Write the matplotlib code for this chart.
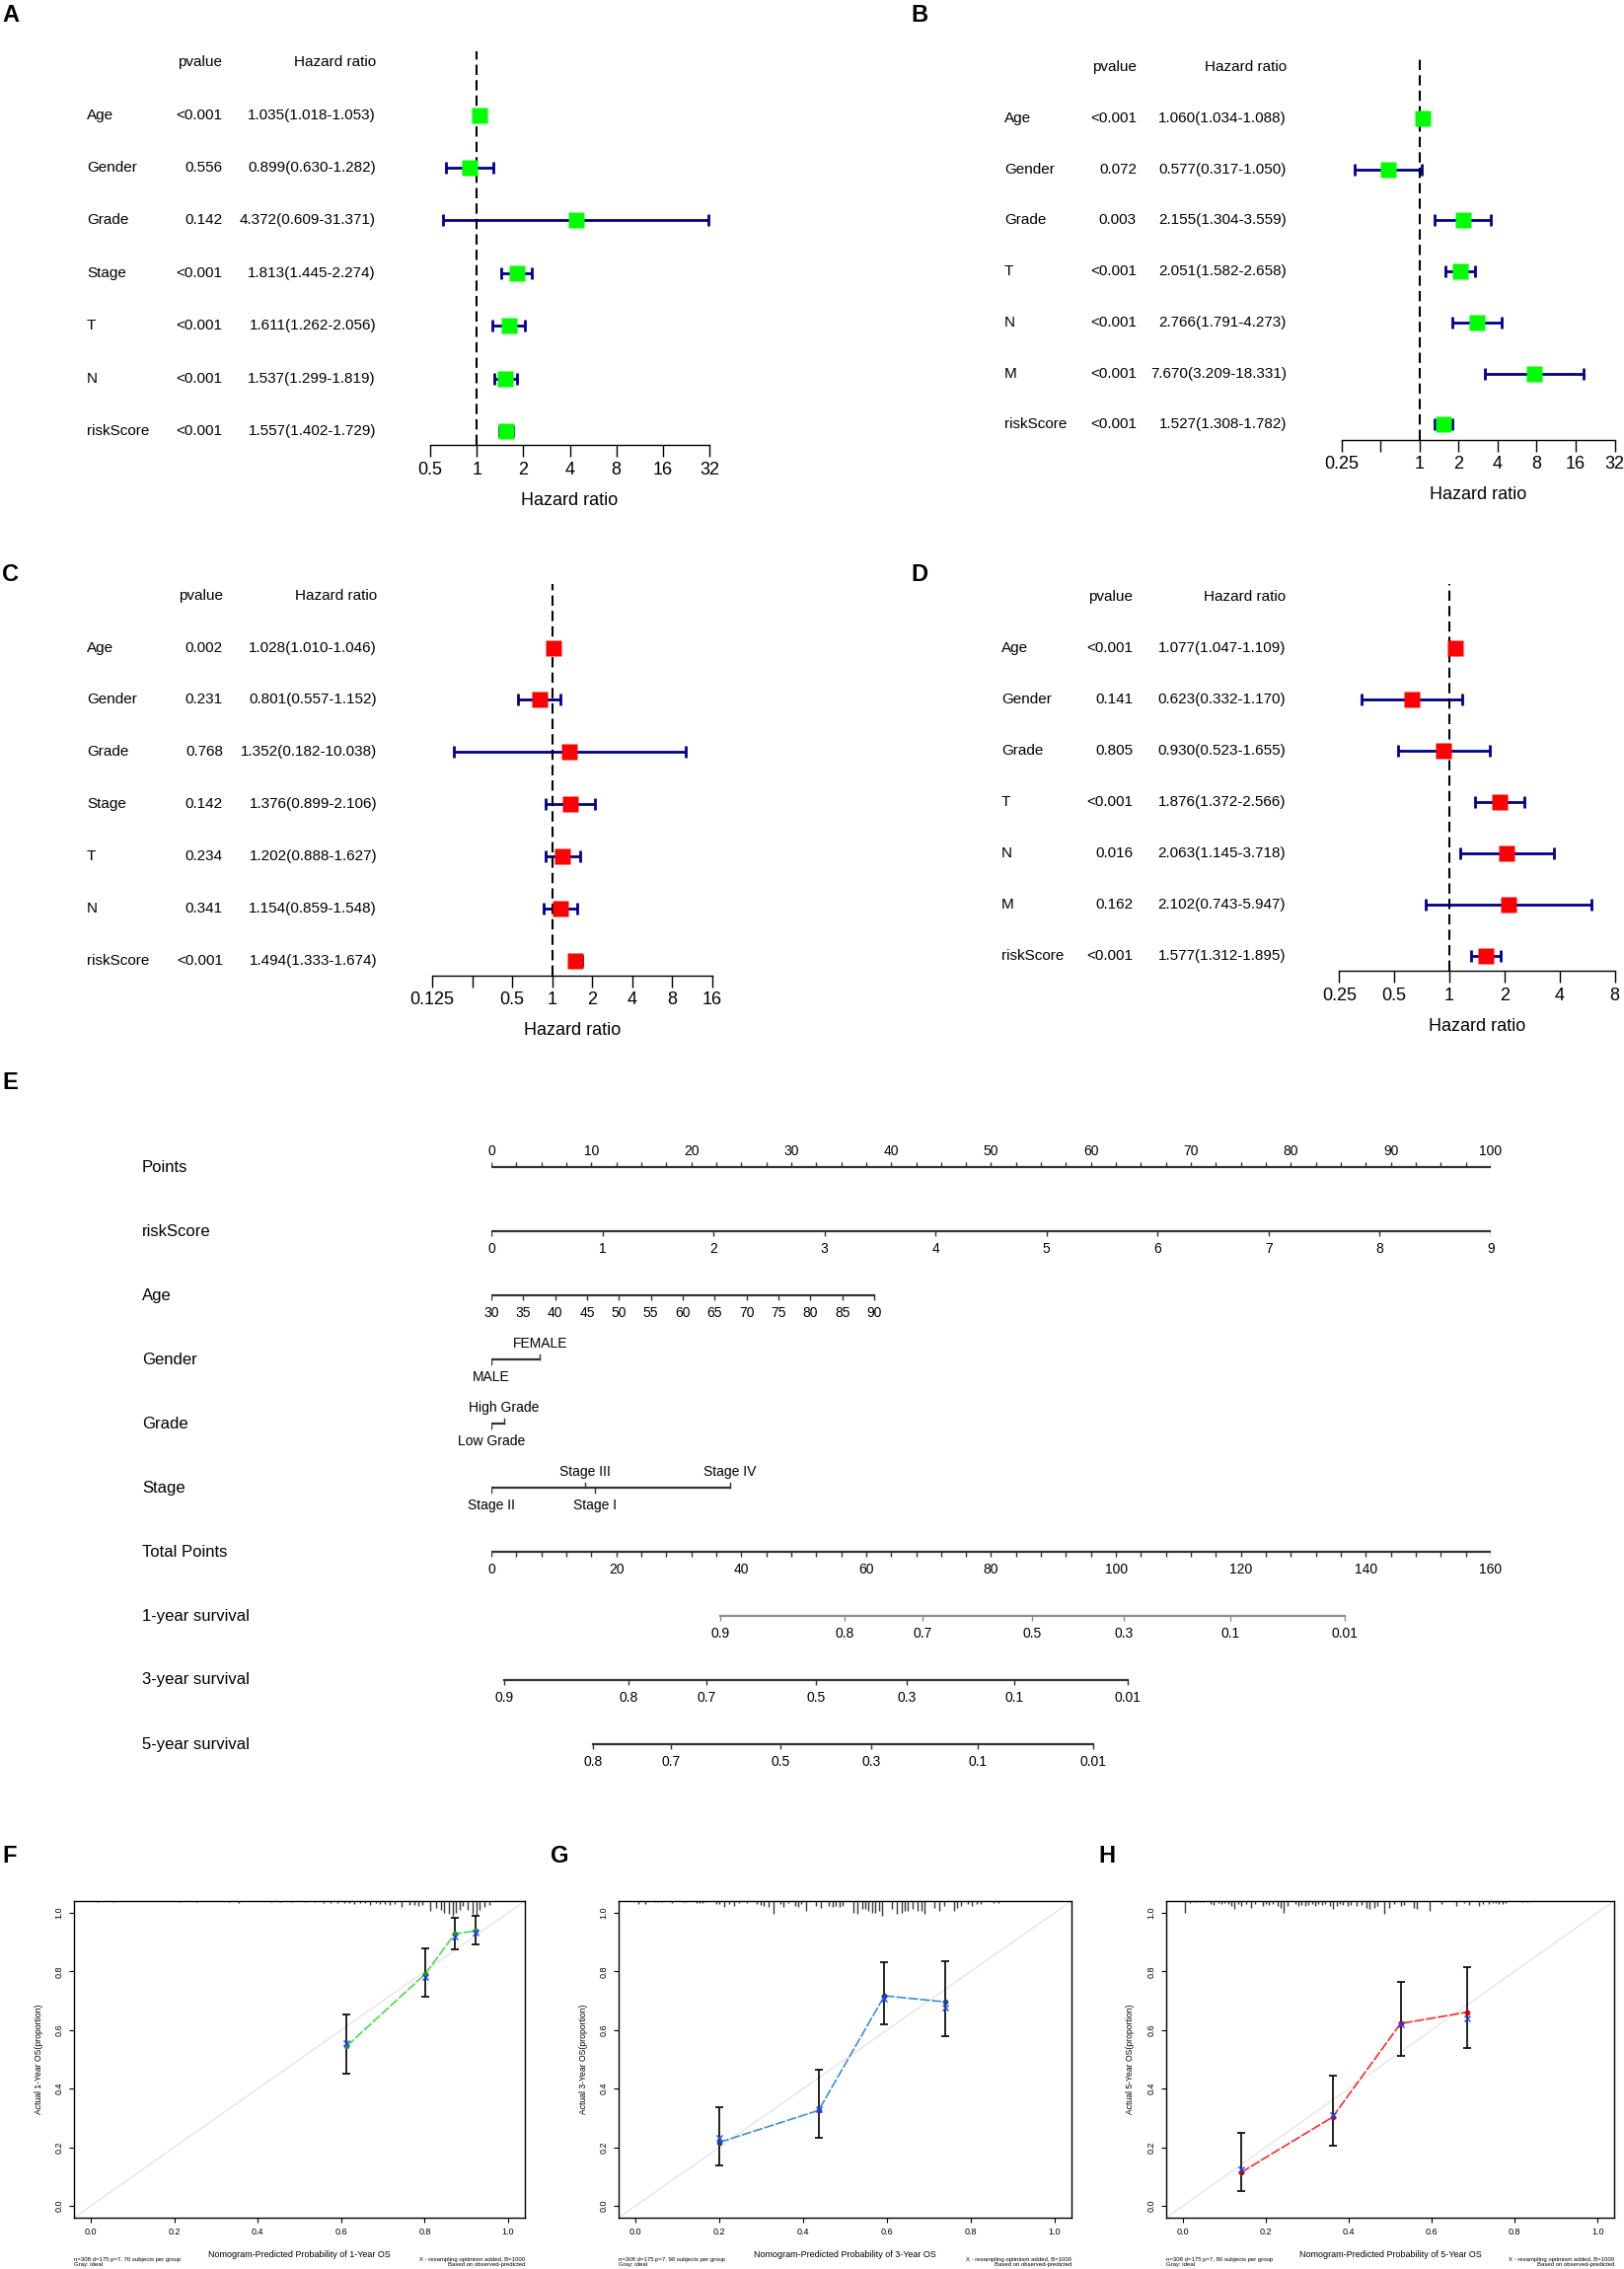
import numpy as np
import matplotlib
matplotlib.use("Agg")
import matplotlib.pyplot as plt
from matplotlib.transforms import blended_transform_factory
from matplotlib.ticker import NullLocator

plt.rcParams["font.family"] = ["Liberation Sans", "DejaVu Sans"]

W, H = 1646, 2300

# ---------------- forest plot data ----------------
a_vars = ["Age", "Gender", "Grade", "Stage", "T", "N", "riskScore"]
a_p = ["<0.001", "0.556", "0.142", "<0.001", "<0.001", "<0.001", "<0.001"]
a_hr = [1.035, 0.899, 4.372, 1.813, 1.611, 1.537, 1.557]
a_lo = [1.018, 0.630, 0.609, 1.445, 1.262, 1.299, 1.402]
a_hi = [1.053, 1.282, 31.371, 2.274, 2.056, 1.819, 1.729]

b_vars = ["Age", "Gender", "Grade", "T", "N", "M", "riskScore"]
b_p = ["<0.001", "0.072", "0.003", "<0.001", "<0.001", "<0.001", "<0.001"]
b_hr = [1.060, 0.577, 2.155, 2.051, 2.766, 7.670, 1.527]
b_lo = [1.034, 0.317, 1.304, 1.582, 1.791, 3.209, 1.308]
b_hi = [1.088, 1.050, 3.559, 2.658, 4.273, 18.331, 1.782]

c_vars = ["Age", "Gender", "Grade", "Stage", "T", "N", "riskScore"]
c_p = ["0.002", "0.231", "0.768", "0.142", "0.234", "0.341", "<0.001"]
c_hr = [1.028, 0.801, 1.352, 1.376, 1.202, 1.154, 1.494]
c_lo = [1.010, 0.557, 0.182, 0.899, 0.888, 0.859, 1.333]
c_hi = [1.046, 1.152, 10.038, 2.106, 1.627, 1.548, 1.674]

d_vars = ["Age", "Gender", "Grade", "T", "N", "M", "riskScore"]
d_p = ["<0.001", "0.141", "0.805", "<0.001", "0.016", "0.162", "<0.001"]
d_hr = [1.077, 0.623, 0.930, 1.876, 2.063, 2.102, 1.577]
d_lo = [1.047, 0.332, 0.523, 1.372, 1.145, 0.743, 1.312]
d_hi = [1.109, 1.170, 1.655, 2.566, 3.718, 5.947, 1.895]

a_ticks = [0.5, 1, 2, 4, 8, 16, 32]
a_ticklabels = ["0.5", "1", "2", "4", "8", "16", "32"]
b_ticks = [0.25, 0.5, 1, 2, 4, 8, 16, 32]
b_ticklabels = ["0.25", "", "1", "2", "4", "8", "16", "32"]
c_ticks = [0.125, 0.25, 0.5, 1, 2, 4, 8, 16]
c_ticklabels = ["0.125", "", "0.5", "1", "2", "4", "8", "16"]
d_ticks = [0.25, 0.5, 1, 2, 4, 8]
d_ticklabels = ["0.25", "0.5", "1", "2", "4", "8"]

# ---------------- nomogram data ----------------
nomo_rows = ["Points", "riskScore", "Age", "Gender", "Grade", "Stage",
             "Total Points", "1-year survival", "3-year survival", "5-year survival"]
points_ticks = [0, 10, 20, 30, 40, 50, 60, 70, 80, 90, 100]
risk_ticks = [0, 1, 2, 3, 4, 5, 6, 7, 8, 9]
risk_pts_per_unit = 100 / 9
age_ticks = [30, 35, 40, 45, 50, 55, 60, 65, 70, 75, 80, 85, 90]
age_pts_per_year = 38.3 / 60
gender_levels = ["MALE", "FEMALE"]
gender_pts = [0, 4.87]
grade_levels = ["Low Grade", "High Grade"]
grade_pts = [0, 1.24]
stage_levels = ["Stage II", "Stage III", "Stage I", "Stage IV"]
stage_pts = [0, 9.38, 10.36, 23.9]
total_ticks = [0, 20, 40, 60, 80, 100, 120, 140, 160]
surv1_prob = [0.9, 0.8, 0.7, 0.5, 0.3, 0.1, 0.01]
surv1_total = [36.7, 56.6, 69.0, 86.6, 101.2, 118.3, 136.6]
surv3_prob = [0.9, 0.8, 0.7, 0.5, 0.3, 0.1, 0.01]
surv3_total = [2.1, 22.0, 34.4, 52.0, 66.5, 83.7, 101.9]
surv5_prob = [0.8, 0.7, 0.5, 0.3, 0.1, 0.01]
surv5_total = [16.3, 28.7, 46.3, 60.8, 77.9, 96.3]

# ---------------- calibration data ----------------
f_pred = [0.613, 0.802, 0.872, 0.923]
f_obs = [0.545, 0.792, 0.928, 0.938]
f_corr = [0.556, 0.782, 0.920, 0.933]
f_lo = [0.451, 0.713, 0.875, 0.892]
f_hi = [0.653, 0.880, 0.983, 0.990]
f_rug_x = [0.016, 0.055, 0.213, 0.252, 0.331, 0.355, 0.433, 0.453, 0.481, 0.512,
           0.536, 0.559, 0.575, 0.591, 0.607, 0.619, 0.630, 0.646, 0.658, 0.670,
           0.682, 0.693, 0.705, 0.717, 0.729, 0.745, 0.764, 0.776, 0.784, 0.794,
           0.812, 0.827, 0.839, 0.847, 0.859, 0.867, 0.875, 0.883, 0.890, 0.902,
           0.914, 0.924, 0.931, 0.944, 0.955]
f_rug_h = [0.004, 0.004, 0.004, 0.004, 0.004, 0.006, 0.004, 0.004, 0.004, 0.004,
           0.004, 0.006, 0.006, 0.006, 0.006, 0.006, 0.010, 0.008, 0.006, 0.012,
           0.008, 0.010, 0.010, 0.012, 0.010, 0.020, 0.014, 0.012, 0.016, 0.012,
           0.034, 0.024, 0.030, 0.040, 0.045, 0.050, 0.040, 0.030, 0.018, 0.030,
           0.045, 0.050, 0.030, 0.020, 0.012]

g_pred = [0.200, 0.437, 0.594, 0.738]
g_obs = [0.217, 0.326, 0.717, 0.696]
g_corr = [0.231, 0.331, 0.708, 0.678]
g_lo = [0.139, 0.231, 0.620, 0.580]
g_hi = [0.337, 0.464, 0.831, 0.836]
g_rug_x = [0.008, 0.024, 0.047, 0.055, 0.063, 0.086, 0.114, 0.121, 0.145, 0.153,
           0.161, 0.168, 0.192, 0.200, 0.212, 0.223, 0.235, 0.247, 0.266, 0.290,
           0.298, 0.306, 0.317, 0.329, 0.345, 0.353, 0.364, 0.380, 0.388, 0.396,
           0.408, 0.431, 0.443, 0.462, 0.470, 0.478, 0.486, 0.494, 0.521, 0.529,
           0.541, 0.549, 0.556, 0.564, 0.572, 0.580, 0.588, 0.611, 0.623, 0.635,
           0.643, 0.650, 0.662, 0.674, 0.682, 0.690, 0.713, 0.725, 0.737, 0.760,
           0.768, 0.776, 0.792, 0.803, 0.815, 0.823, 0.854, 0.866]
g_rug_h = [0.011, 0.011, 0.003, 0.003, 0.003, 0.006, 0.003, 0.003, 0.006, 0.006,
           0.006, 0.003, 0.011, 0.009, 0.020, 0.011, 0.017, 0.006, 0.006, 0.011,
           0.013, 0.017, 0.020, 0.045, 0.009, 0.020, 0.006, 0.017, 0.020, 0.011,
           0.034, 0.017, 0.022, 0.017, 0.020, 0.017, 0.020, 0.017, 0.039, 0.045,
           0.028, 0.028, 0.034, 0.039, 0.039, 0.034, 0.050, 0.028, 0.045, 0.039,
           0.034, 0.034, 0.028, 0.034, 0.034, 0.045, 0.022, 0.034, 0.017, 0.034,
           0.022, 0.017, 0.011, 0.017, 0.011, 0.009, 0.006, 0.006]

h_pred = [0.140, 0.361, 0.525, 0.686]
h_obs = [0.114, 0.303, 0.622, 0.661]
h_corr = [0.126, 0.311, 0.619, 0.639]
h_lo = [0.052, 0.205, 0.512, 0.538]
h_hi = [0.249, 0.443, 0.763, 0.815]
h_rug_x = [0.006, 0.018, 0.026, 0.034, 0.042, 0.050, 0.066, 0.074, 0.086, 0.093,
           0.101, 0.109, 0.117, 0.125, 0.133, 0.141, 0.153, 0.165, 0.173, 0.192,
           0.200, 0.208, 0.216, 0.228, 0.236, 0.244, 0.252, 0.272, 0.279, 0.287,
           0.295, 0.303, 0.311, 0.319, 0.327, 0.335, 0.343, 0.355, 0.363, 0.371,
           0.378, 0.386, 0.398, 0.406, 0.418, 0.430, 0.442, 0.450, 0.462, 0.470,
           0.485, 0.497, 0.509, 0.525, 0.533, 0.557, 0.565, 0.596, 0.624, 0.660,
           0.679, 0.691, 0.715, 0.723, 0.739, 0.747, 0.755, 0.762, 0.770, 0.778,
           0.818, 0.830]
h_rug_h = [0.039, 0.006, 0.003, 0.003, 0.003, 0.003, 0.009, 0.013, 0.006, 0.009,
           0.006, 0.011, 0.017, 0.028, 0.011, 0.017, 0.011, 0.022, 0.009, 0.017,
           0.011, 0.013, 0.009, 0.017, 0.022, 0.039, 0.017, 0.009, 0.017, 0.013,
           0.017, 0.013, 0.009, 0.017, 0.011, 0.013, 0.009, 0.017, 0.028, 0.017,
           0.011, 0.013, 0.017, 0.013, 0.017, 0.013, 0.022, 0.028, 0.022, 0.017,
           0.045, 0.022, 0.011, 0.017, 0.013, 0.022, 0.028, 0.034, 0.009, 0.017,
           0.006, 0.013, 0.017, 0.009, 0.009, 0.006, 0.006, 0.009, 0.009, 0.006,
           0.003, 0.003]

fig = plt.figure(figsize=(W / 100, H / 100), dpi=100)


def px_ax(left, top, right, bottom):
    return fig.add_axes([left / W, 1 - bottom / H, (right - left) / W, (bottom - top) / H])


def panel_letter(x, y, s):
    fig.text(x / W, 1 - y / H, s, fontsize=17, fontweight="bold", ha="left", va="center")


# ---------------- forest plots ----------------
def forest(vars_, pvals, hr, lo, hi, box_color, row_top, row_bot, axis_y, dash_top,
           xl, xr, ticks, ticklabels, lab_x, p_right, hr_right):
    n = len(vars_)
    step = (row_bot - row_top) / (n - 1)
    ax = px_ax(xl, dash_top, xr, axis_y)
    ax.set_xscale("log", base=2)
    ax.set_xlim(ticks[0], ticks[-1])
    ax.set_ylim(1 - (axis_y - row_bot) / step, n + (row_top - dash_top) / step)
    ys = np.arange(n, 0, -1)
    hr = np.array(hr)
    ax.errorbar(hr, ys, xerr=[hr - np.array(lo), np.array(hi) - hr], fmt="none",
                ecolor="#00008b", elinewidth=2.0, capsize=4.5, capthick=2.0,
                clip_on=False, zorder=2)
    ax.axvline(1, color="black", lw=1.5, ls=(0, (5, 2.5)), zorder=3)
    ax.plot(hr, ys, "s", ms=11.5, color=box_color, mec="none", zorder=4, clip_on=False)
    for s in ["top", "left", "right"]:
        ax.spines[s].set_visible(False)
    ax.spines["bottom"].set_linewidth(1.0)
    ax.set_yticks([])
    ax.set_xticks(ticks, ticklabels)
    ax.xaxis.set_minor_locator(NullLocator())
    ax.tick_params(axis="x", length=8.6, width=1.0, pad=3.5, labelsize=13)
    ax.patch.set_visible(False)
    ax.text(0.5, -56 / (axis_y - dash_top), "Hazard ratio", transform=ax.transAxes,
            ha="center", va="center", fontsize=13)
    tr = blended_transform_factory(fig.transFigure, ax.transData)
    for y, v, p, h, l, u in zip(ys, vars_, pvals, hr, lo, hi):
        ax.text(lab_x / W, y, v, transform=tr, ha="left", va="center", fontsize=11)
        ax.text(p_right / W, y, p, transform=tr, ha="right", va="center", fontsize=11)
        ax.text(hr_right / W, y, f"{h:.3f}({l:.3f}-{u:.3f})", transform=tr,
                ha="right", va="center", fontsize=11)
    ax.text(p_right / W, n + 1, "pvalue", transform=tr, ha="right", va="center", fontsize=11)
    ax.text(hr_right / W, n + 1, "Hazard ratio", transform=tr, ha="right", va="center", fontsize=11)


forest(a_vars, a_p, a_hr, a_lo, a_hi, "#00ff00", 116.6, 437, 451, 52,
       436, 719, a_ticks, a_ticklabels, 88, 225, 381)
forest(b_vars, b_p, b_hr, b_lo, b_hi, "#00ff00", 120, 430.4, 445.6, 57.5,
       1359.5, 1636.6, b_ticks, b_ticklabels, 1018, 1152, 1304)
forest(c_vars, c_p, c_hr, c_lo, c_hi, "#ff0000", 656.6, 973.7, 988.6, 592,
       438, 722, c_ticks, c_ticklabels, 88, 226, 382)
forest(d_vars, d_p, d_hr, d_lo, d_hi, "#ff0000", 656.6, 968.7, 984, 592,
       1357.4, 1636.6, d_ticks, d_ticklabels, 1015, 1148.5, 1303)

panel_letter(2, 15.5, "A")
panel_letter(923, 15.5, "B")
panel_letter(2, 583, "C")
panel_letter(923, 583, "D")

# ---------------- nomogram ----------------
row_px = 65.0
nx = px_ax(498, 1183 - 0.5 * row_px, 1511, 1183 + 9.5 * row_px)
nx.set_xlim(0, 100)
nx.set_ylim(9.5, -0.5)
nx.axis("off")
lc = "#333333"
tk = 0.08
lab_below = 0.28
lab_above = -0.25
ntr = blended_transform_factory(fig.transFigure, nx.transData)
for r, name in enumerate(nomo_rows):
    nx.text(144 / W, r, name, transform=ntr, ha="left", va="center", fontsize=12)

# Points
nx.plot([0, 100], [0, 0], color=lc, lw=1.6)
nx.vlines(np.arange(0, 100.01, 2.5), 0, -tk, color=lc, lw=1.0)
for v in points_ticks:
    nx.text(v, lab_above, str(v), ha="center", va="center", fontsize=10)

# riskScore
risk_x = np.array(risk_ticks) * risk_pts_per_unit
nx.plot([risk_x[0], risk_x[-1]], [1, 1], color=lc, lw=1.6)
nx.vlines(risk_x, 1, 1 + tk, color=lc, lw=1.0)
for v, x in zip(risk_ticks, risk_x):
    nx.text(x, 1 + lab_below, str(v), ha="center", va="center", fontsize=10)

# Age
age_x = (np.array(age_ticks) - age_ticks[0]) * age_pts_per_year
nx.plot([age_x[0], age_x[-1]], [2, 2], color=lc, lw=1.6)
nx.vlines(age_x, 2, 2 + tk, color=lc, lw=1.0)
for v, x in zip(age_ticks, age_x):
    nx.text(x, 2 + lab_below, str(v), ha="center", va="center", fontsize=10)


def categorical(row, levels, pts):
    nx.plot([min(pts), max(pts)], [row, row], color=lc, lw=1.6)
    order = np.argsort(pts)
    for k, i in enumerate(order):
        below = (k % 2 == 0)
        sgn = 1 if below else -1
        nx.plot([pts[i], pts[i]], [row, row + sgn * tk], color=lc, lw=1.0)
        nx.text(pts[i], row + (lab_below if below else lab_above), levels[i],
                ha="center", va="center", fontsize=10)


categorical(3, gender_levels, gender_pts)
categorical(4, grade_levels, grade_pts)
categorical(5, stage_levels, stage_pts)

# Total points
tot_scale = 100 / total_ticks[-1]
nx.plot([0, 100], [6, 6], color=lc, lw=1.6)
nx.vlines(np.arange(0, total_ticks[-1] + 0.01, 4) * tot_scale, 6, 6 + tk, color=lc, lw=1.0)
for v in total_ticks:
    nx.text(v * tot_scale, 6 + lab_below, str(v), ha="center", va="center", fontsize=10)


def survival(row, probs, totals, color):
    xs = np.array(totals) * tot_scale
    nx.plot([xs[0], xs[-1]], [row, row], color=color, lw=1.6)
    nx.vlines(xs, row, row + tk, color=color, lw=1.0)
    for p, x in zip(probs, xs):
        nx.text(x, row + lab_below, f"{p:g}", ha="center", va="center", fontsize=10)


survival(7, surv1_prob, surv1_total, "#8c8c8c")
survival(8, surv3_prob, surv3_total, lc)
survival(9, surv5_prob, surv5_total, lc)

panel_letter(2, 1098, "E")


# ---------------- calibration curves ----------------
def calib(left, right, pred, obs, corr, lo, hi, rug_x, rug_h, line_color, pt_color,
          years, n_group):
    top, bottom = 1927, 2248
    ax = px_ax(left, top, right, bottom)
    ax.set_xlim(-0.04, 1.04)
    ax.set_ylim(-0.04, 1.04)
    ax.axline((0, 0), (1, 1), color="#e6e6e6", lw=1.0, zorder=1)
    ax.vlines(rug_x, 1.04 - np.array(rug_h), 1.04, color="#3a3a3a", lw=1.0, zorder=2)
    ax.errorbar(pred, obs, yerr=[np.array(obs) - np.array(lo), np.array(hi) - np.array(obs)],
                fmt="none", ecolor="#111111", elinewidth=1.3, capsize=3.0, capthick=1.3, zorder=3)
    ax.plot(pred, obs, color=line_color, lw=1.2, ls=(0, (6, 1.2)), zorder=4)
    ax.plot(pred, obs, "o", ms=3, color=pt_color, zorder=5)
    ax.plot(pred, corr, "x", ms=4, mew=1.0, color="#2040ff", zorder=6)
    ticks = [0.0, 0.2, 0.4, 0.6, 0.8, 1.0]
    ax.set_xticks(ticks, [f"{t:.1f}" for t in ticks])
    ax.set_yticks(ticks, [f"{t:.1f}" for t in ticks])
    ax.tick_params(length=3.5, width=0.8, pad=4, labelsize=6.5)
    for lab in ax.get_yticklabels():
        lab.set_rotation(90)
        lab.set_va("center")
    for s in ax.spines.values():
        s.set_linewidth(1.0)
    hgt = bottom - top
    wid = right - left
    ax.text(0.5, -38 / hgt, f"Nomogram-Predicted Probability of {years}-Year OS",
            transform=ax.transAxes, ha="center", va="center", fontsize=6.5)
    ax.text(-36 / wid, 0.5, f"Actual {years}-Year OS(proportion)", transform=ax.transAxes,
            rotation=90, ha="center", va="center", fontsize=6.2)
    ax.text(0.0, -40 / hgt, f"n=308 d=175 p=7, {n_group} subjects per group\nGray: ideal",
            transform=ax.transAxes, ha="left", va="top", fontsize=4.3, linespacing=1.1)
    ax.text(1.0, -40 / hgt, "X - resampling optimism added, B=1000\nBased on observed-predicted",
            transform=ax.transAxes, ha="right", va="top", fontsize=4.3, linespacing=1.1)


calib(75, 532, f_pred, f_obs, f_corr, f_lo, f_hi, f_rug_x, f_rug_h, "#4cd94c", "#229922", 1, 70)
calib(627, 1086, g_pred, g_obs, g_corr, g_lo, g_hi, g_rug_x, g_rug_h, "#3d8fd6", "#1f3f8f", 3, 90)
calib(1182, 1636, h_pred, h_obs, h_corr, h_lo, h_hi, h_rug_x, h_rug_h, "#ff2a2a", "#cc0000", 5, 80)

panel_letter(2, 1881, "F")
panel_letter(558, 1881, "G")
panel_letter(1113, 1881, "H")

fig.savefig("out.png", dpi=100)
